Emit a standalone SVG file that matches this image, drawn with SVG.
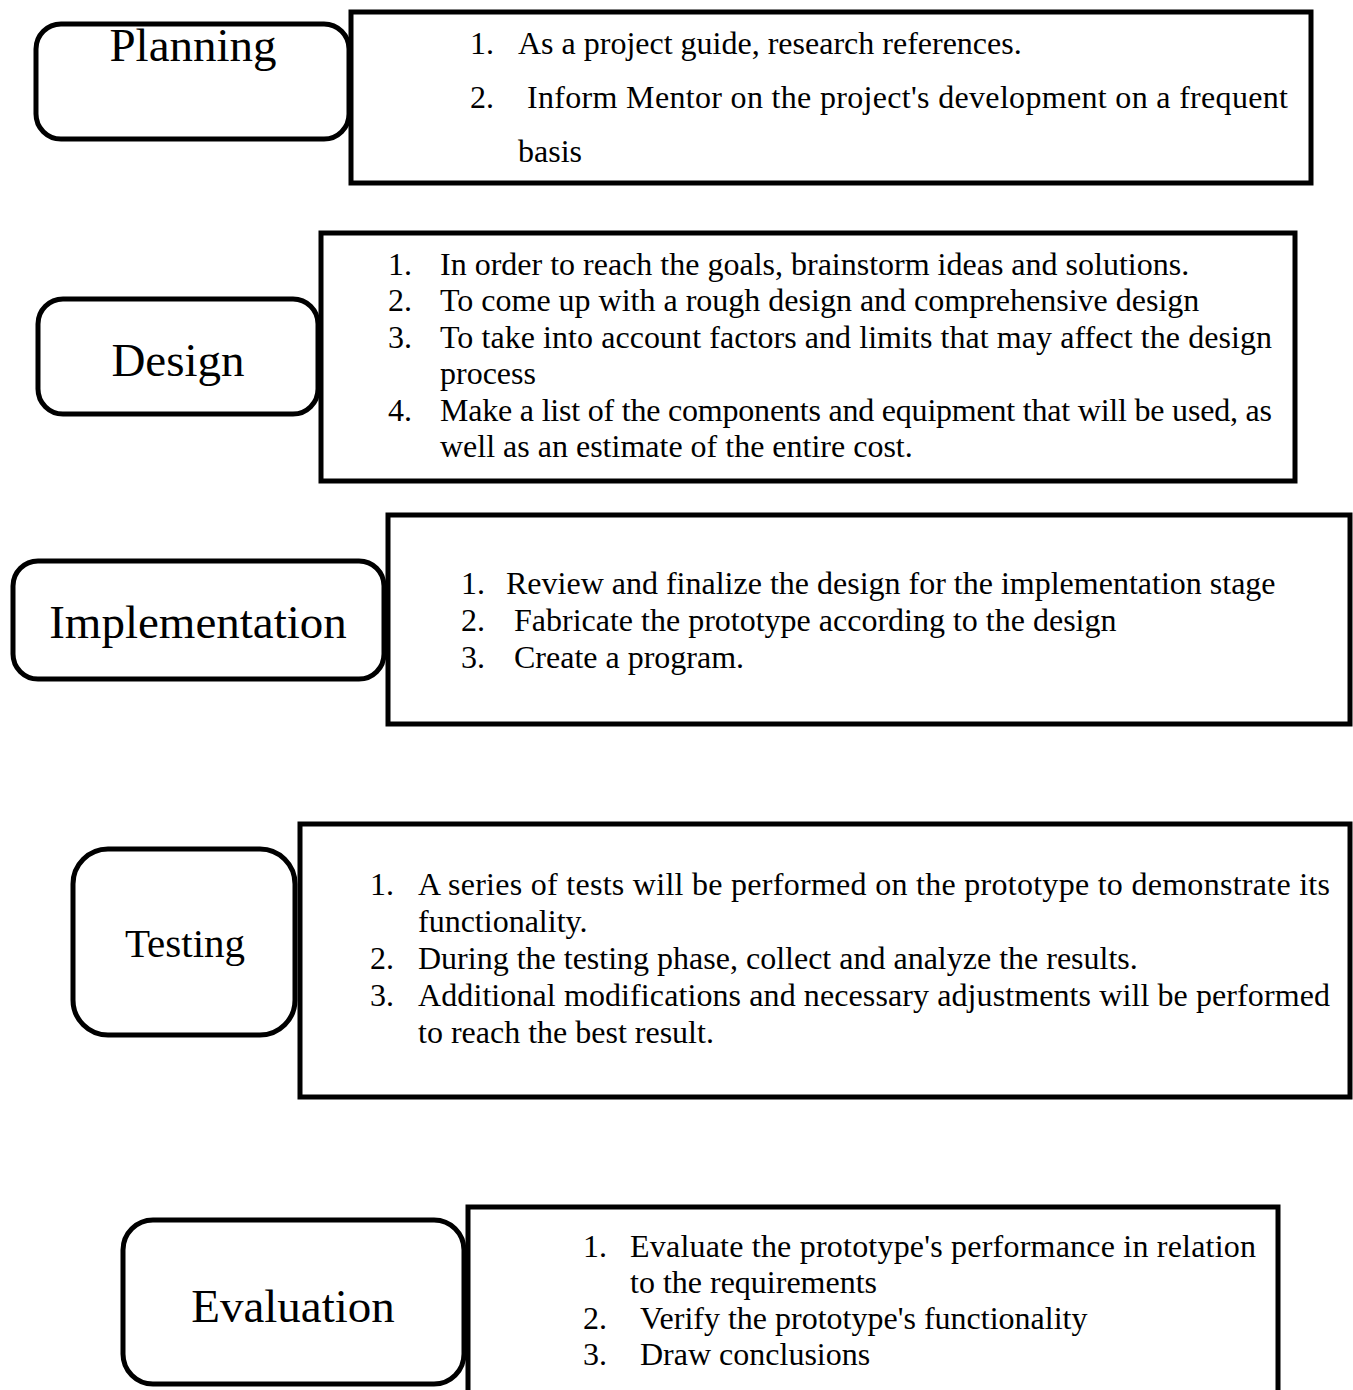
<svg xmlns="http://www.w3.org/2000/svg" width="1353" height="1390" viewBox="0 0 1353 1390">
<style>
.lbl{fill:#fff;stroke:#000;stroke-width:5}
.box{fill:#fff;stroke:#000;stroke-width:5}
.t{font-family:"Liberation Serif","Times New Roman",serif;font-size:32px;fill:#000}
.h{font-family:"Liberation Serif","Times New Roman",serif;font-size:47px;fill:#000;text-anchor:middle}
</style>
<rect width="1353" height="1390" fill="#fff"/>
<g id="connectors"></g>

<g id="planning-list">
<rect class="box" x="351" y="12" width="960" height="171"/>
<text class="t" x="470" y="54">1.</text><text class="t" x="518" y="54">As a project guide, research references.</text>
<text class="t" x="470" y="108">2.</text><text class="t" x="527" y="108" textLength="761" lengthAdjust="spacing">Inform Mentor on the project's development on a frequent</text>
<text class="t" x="518" y="162">basis</text>
</g>
<g id="planning">
<rect class="lbl" x="36" y="24" width="313" height="115" rx="25"/>
<text class="h" x="193" y="61">Planning</text>
</g>

<g id="design-list">
<rect class="box" x="321" y="233" width="974" height="248"/>
<text class="t" x="388" y="275">1.</text><text class="t" x="440" y="275">In order to reach the goals, brainstorm ideas and solutions.</text>
<text class="t" x="388" y="311">2.</text><text class="t" x="440" y="311">To come up with a rough design and comprehensive design</text>
<text class="t" x="388" y="348">3.</text><text class="t" x="440" y="348" textLength="832" lengthAdjust="spacing">To take into account factors and limits that may affect the design</text>
<text class="t" x="440" y="384">process</text>
<text class="t" x="388" y="421">4.</text><text class="t" x="440" y="421" textLength="832" lengthAdjust="spacing">Make a list of the components and equipment that will be used, as</text>
<text class="t" x="440" y="457">well as an estimate of the entire cost.</text>
</g>
<g id="design">
<rect class="lbl" x="38" y="299" width="280" height="115" rx="25"/>
<text class="h" x="178" y="376">Design</text>
</g>

<g id="implementation-list">
<rect class="box" x="388" y="515" width="962" height="209"/>
<text class="t" x="461" y="594">1.</text><text class="t" x="506" y="594">Review and finalize the design for the implementation stage</text>
<text class="t" x="461" y="631">2.</text><text class="t" x="514" y="631">Fabricate the prototype according to the design</text>
<text class="t" x="461" y="668">3.</text><text class="t" x="514" y="668">Create a program.</text>
</g>
<g id="implementation">
<rect class="lbl" x="13" y="561" width="371" height="118" rx="25"/>
<text class="h" x="198" y="638">Implementation</text>
</g>

<g id="testing-list">
<rect class="box" x="300" y="824" width="1050" height="273"/>
<text class="t" x="370" y="895">1.</text><text class="t" x="418" y="895" textLength="912" lengthAdjust="spacing">A series of tests will be performed on the prototype to demonstrate its</text>
<text class="t" x="418" y="932">functionality.</text>
<text class="t" x="370" y="969">2.</text><text class="t" x="418" y="969">During the testing phase, collect and analyze the results.</text>
<text class="t" x="370" y="1006">3.</text><text class="t" x="418" y="1006" textLength="912" lengthAdjust="spacing">Additional modifications and necessary adjustments will be performed</text>
<text class="t" x="418" y="1043">to reach the best result.</text>
</g>
<g id="testing">
<rect class="lbl" x="73" y="849" width="222" height="186" rx="35"/>
<text class="h" x="185" y="957" style="font-size:41px">Testing</text>
</g>

<g id="evaluation-list">
<rect class="box" x="468" y="1207" width="810" height="200"/>
<text class="t" x="583" y="1257">1.</text><text class="t" x="630" y="1257" textLength="626" lengthAdjust="spacing">Evaluate the prototype's performance in relation</text>
<text class="t" x="630" y="1293">to the requirements</text>
<text class="t" x="583" y="1329">2.</text><text class="t" x="640" y="1329">Verify the prototype's functionality</text>
<text class="t" x="583" y="1365">3.</text><text class="t" x="640" y="1365">Draw conclusions</text>
</g>
<g id="evaluation">
<rect class="lbl" x="123" y="1220" width="341" height="164" rx="30"/>
<text class="h" x="293" y="1322">Evaluation</text>
</g>
</svg>
